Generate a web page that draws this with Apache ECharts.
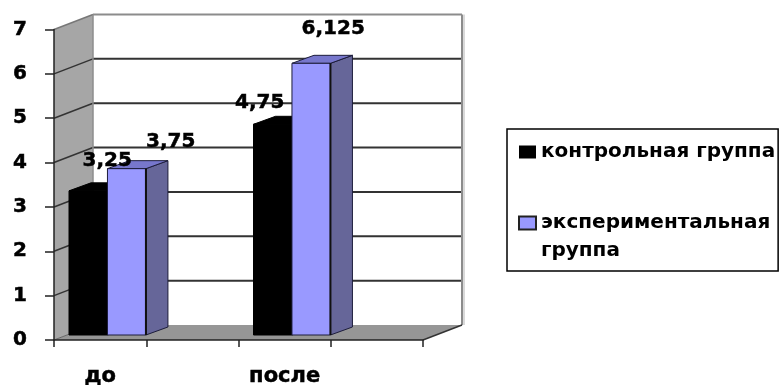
<!DOCTYPE html>
<html>
<head>
<meta charset="utf-8">
<style>html,body{margin:0;padding:0;background:#fff}#chart{width:781px;height:385px}</style>
<script src="https://cdn.jsdelivr.net/npm/echarts@6/dist/echarts.min.js"></script>
</head>
<body>
<div id="chart"></div>
<script>
// Результаты групп до и после эксперимента
const categories = ['до', '', 'после', ''];
const controlName = 'контрольная группа';
const experimentName = 'экспериментальная\nгруппа';
const controlValues = [[0, 3.25], [2, 4.75]];
const experimentValues = [[0, 3.75], [2, 6.125]];
const yTicks = [0, 1, 2, 3, 4, 5, 6, 7];

// Pseudo-3D projection, in pixels
const wallDepth = [39, -15];
const barInset = [15, -5];
const barDepth = [22, -8];
const barShare = 0.417;

// Hand placement of the value labels relative to each bar's top front corner
const controlLabelShift = [[19, -30], [-13, -22]];
const experimentLabelShift = [[44, -27], [22, -35]];

const FONT = '"DejaVu Sans", sans-serif';

function line(x1, y1, x2, y2, stroke, width) {
  return { type: 'line', shape: { x1, y1, x2, y2 }, style: { stroke, lineWidth: width }, silent: true };
}
function poly(points, fill, stroke, z2) {
  return { type: 'polygon', shape: { points }, style: { fill, stroke: stroke || null, lineWidth: stroke ? 1 : 0 }, z2: z2 || 0, silent: true };
}

// Walls, floor and grid lines of the box behind the bars
function renderBox(params, api) {
  const left = api.coord([0, 0])[0] - api.size([1, 0])[0] / 2;
  const right = left + api.size([1, 0])[0] * categories.length;
  const y0 = api.coord([0, 0])[1];
  const y7 = api.coord([0, 7])[1];
  const [dx, dy] = wallDepth;
  const children = [
    poly([[left + dx, y7 + dy], [right + dx, y7 + dy], [right + dx, y0 + dy], [left + dx, y0 + dy]], '#fff'),
    poly([[left, y0], [left, y7], [left + dx, y7 + dy], [left + dx, y0 + dy]], '#a6a6a6'),
    poly([[left, y0], [left + dx, y0 + dy], [right + dx, y0 + dy], [right, y0]], '#969696')
  ];
  yTicks.forEach(function (t) {
    const y = api.coord([0, t])[1];
    if (t > 0 && t < 7) {
      children.push(line(left + dx, y + dy, right + dx, y + dy, '#333', 2));
    }
    if (t > 0) {
      children.push(line(left, y, left + dx, y + dy, t === 7 ? '#777' : '#333', 1.5));
    }
  });
  children.push(line(left + dx, y7 + dy, right + dx, y7 + dy, '#8c8c8c', 2));
  children.push(line(right + dx, y7 + dy, right + dx, y0 + dy, '#8c8c8c', 2));
  children.push(line(right + dx + 2, y7 + dy, right + dx + 2, y0 + dy, '#d9d9d9', 2));
  children.push(line(left + dx, y7 + dy, left + dx, y0 + dy, '#8c8c8c', 1.5));
  children.push(line(right, y0, right + dx, y0 + dy, '#333', 1.5));
  children.push(line(left, y0, left + dx, y0 + dy, '#666', 1));
  return { type: 'group', children };
}

// One extruded bar: front, top and side faces plus its value label
function barRenderer(slot, colors, shifts) {
  return function (params, api) {
    const cat = api.value(0);
    const val = api.value(1);
    const band = api.size([1, 0])[0];
    const w = band * barShare;
    const x = api.coord([cat, 0])[0] - band / 2 + barInset[0] + slot * w;
    const base = api.coord([cat, 0])[1] + barInset[1];
    const top = api.coord([cat, val])[1] + barInset[1];
    const [dx, dy] = barDepth;
    const shift = shifts[params.dataIndexInside];
    return {
      type: 'group',
      children: [
        poly([[x + w, top], [x + w + dx, top + dy], [x + w + dx, base + dy], [x + w, base]], colors.side, colors.edge),
        poly([[x, top], [x + dx, top + dy], [x + w + dx, top + dy], [x + w, top]], colors.top, colors.edge),
        poly([[x, top], [x + w, top], [x + w, base], [x, base]], colors.front, colors.edge),
        line(x + w, top, x + w, base, colors.spine, 2),
        {
          type: 'text', z2: 100, silent: true,
          style: {
            x: x + shift[0] + w / 2, y: top + shift[1],
            text: String(val).replace('.', ','),
            font: 'bold 20px ' + FONT, fill: '#000', stroke: '#000', lineWidth: 0.5,
            align: 'center', verticalAlign: 'middle'
          }
        }
      ]
    };
  };
}

const chart = echarts.init(document.getElementById('chart'), null, { renderer: 'canvas' });
chart.setOption({
  animation: false,
  backgroundColor: '#fff',
  grid: { left: 54, right: 358, top: 29.5, bottom: 45, containLabel: false, outerBoundsMode: 'none' },
  xAxis: {
    type: 'category',
    data: categories,
    z: 5,
    axisLine: { lineStyle: { color: '#222', width: 1.5 } },
    axisTick: { show: true, interval: 0, length: 7, lineStyle: { color: '#222', width: 1.5 } },
    axisLabel: { interval: 0, margin: 26, color: '#000', fontFamily: FONT, fontWeight: 'bold', fontSize: 21, textBorderColor: '#000', textBorderWidth: 0.5 }
  },
  yAxis: {
    type: 'value',
    min: 0, max: 7, interval: 1,
    z: 5,
    splitLine: { show: false },
    axisLine: { show: true, lineStyle: { color: '#222', width: 1.5 } },
    axisTick: { show: true, length: 9, lineStyle: { color: '#222', width: 1.5 } },
    axisLabel: { margin: 27, color: '#000', fontFamily: FONT, fontWeight: 'bold', fontSize: 20, textBorderColor: '#000', textBorderWidth: 0.5 }
  },
  legend: {
    left: 507, top: 129,
    orient: 'vertical',
    data: [controlName, experimentName],
    icon: 'rect',
    itemWidth: 17, itemHeight: 13, itemGap: 15,
    padding: [9, 3, 6, 11],
    borderColor: '#000', borderWidth: 1.5,
    backgroundColor: '#fff',
    selectedMode: false,
    // A leading blank line keeps the swatch beside the first line of a wrapped name
    formatter: function (name) { return name.indexOf('\n') >= 0 ? '\n' + name : name; },
    textStyle: { color: '#000', fontFamily: FONT, fontWeight: 'bold', fontSize: 20, lineHeight: 28 }
  },
  series: [
    { type: 'custom', name: 'box', z: 1, clip: false, silent: true, data: [[0, 0]], renderItem: renderBox },
    {
      type: 'custom', name: controlName, z: 2, clip: false, silent: true,
      itemStyle: { color: '#000' },
      encode: { x: 0, y: 1 },
      data: controlValues,
      renderItem: barRenderer(0, { front: '#000', top: '#000', side: '#000', edge: '#000', spine: '#000' }, controlLabelShift)
    },
    {
      type: 'custom', name: experimentName, z: 2, clip: false, silent: true,
      itemStyle: { color: '#9999ff', borderColor: '#222', borderWidth: 1 },
      encode: { x: 0, y: 1 },
      data: experimentValues,
      renderItem: barRenderer(1, { front: '#9999ff', top: '#7777cc', side: '#666699', edge: '#1c1c3a', spine: '#111' }, experimentLabelShift)
    }
  ]
});
</script>
</body>
</html>
